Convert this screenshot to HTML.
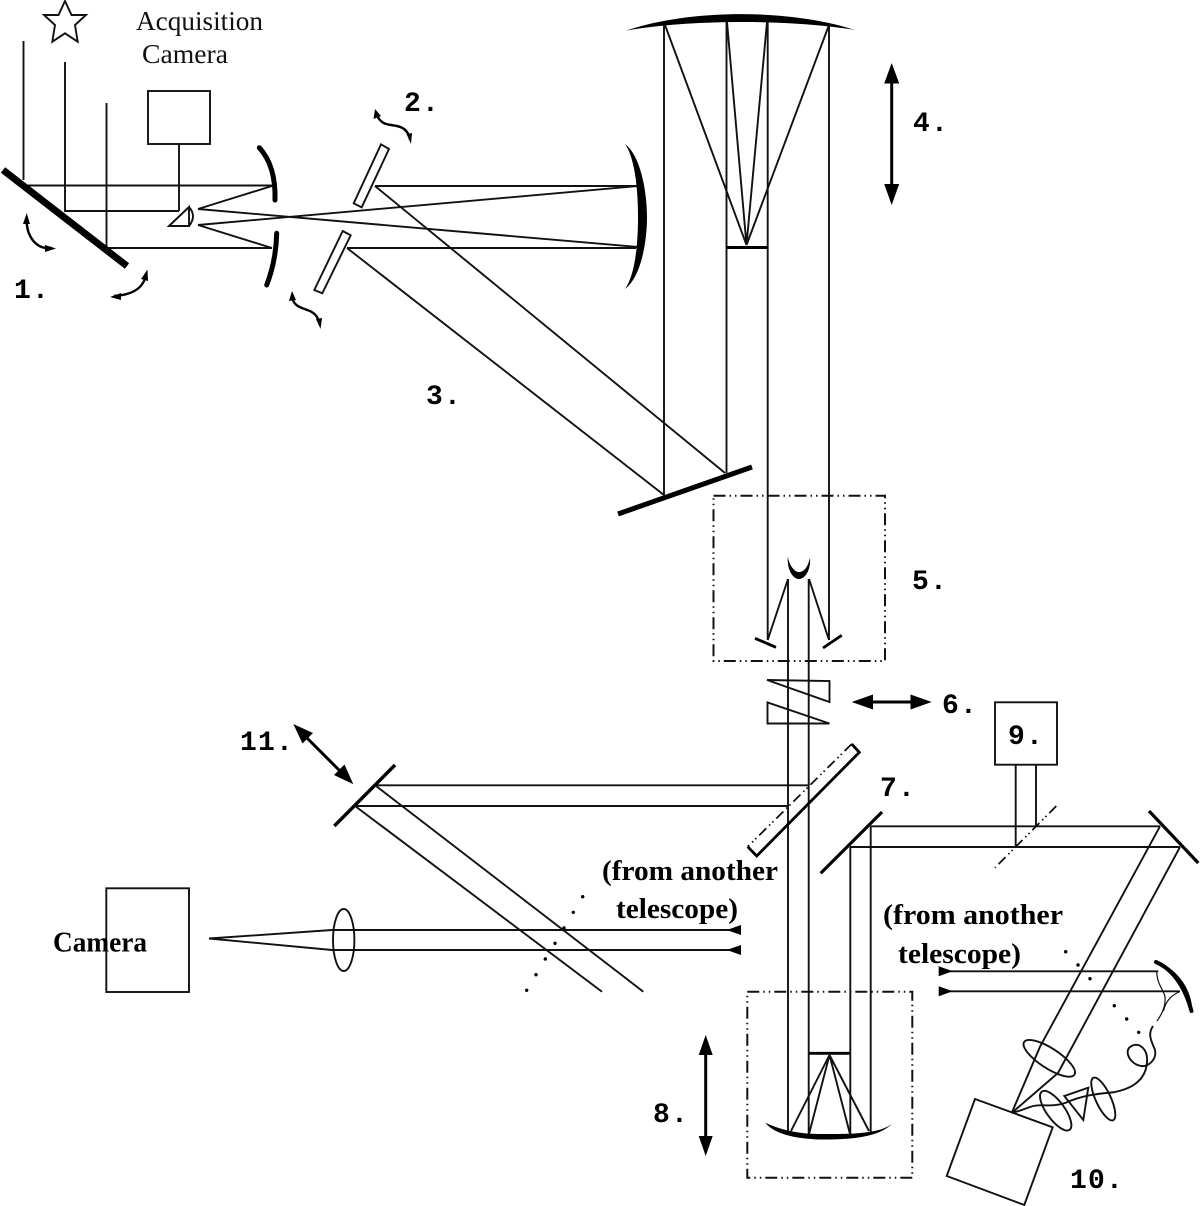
<!DOCTYPE html>
<html>
<head>
<meta charset="utf-8">
<style>
html,body{margin:0;padding:0;background:#fff;}
svg{display:block;}
.l{fill:none;stroke:#111;stroke-width:1.9;}
.t{fill:none;stroke:#111;stroke-width:1.2;}
.a{fill:none;stroke:#000;stroke-width:2.4;}
.h{fill:none;stroke:#000;stroke-width:2.8;}
.k{fill:#000;stroke:none;}
.d{fill:none;stroke:#111;stroke-width:2;stroke-dasharray:12 4 1.5 4 1.5 4;}
.n{font-family:"Liberation Mono",monospace;font-weight:bold;font-size:28px;letter-spacing:1.2px;fill:#000;}
.s{font-family:"Liberation Serif",serif;font-size:27px;fill:#111;}
.b{font-family:"Liberation Serif",serif;font-weight:bold;font-size:28px;fill:#000;}
</style>
</head>
<body>
<svg width="1200" height="1206" viewBox="0 0 1200 1206" xmlns="http://www.w3.org/2000/svg">
<rect width="1200" height="1206" fill="#fff"/>

<!-- star -->
<polygon class="l" points="65,1 71.5,15 86,15 75,25 77.7,41.7 65,33.3 52.3,41.7 55,25 44,15 58.5,15"/>

<!-- incoming beams -->
<path class="l" d="M23.5 41V180M65 62V211H179M106.5 103V248M27 185.5H272M107 248H272"/>
<!-- acquisition camera -->
<rect class="l" x="148" y="91" width="62" height="53"/>
<path class="l" d="M179 144V211"/>
<path class="l" d="M169 226L189 207V226Z"/>
<path class="l" d="M189 207Q197 216 189 226"/>
<!-- primary mirror 1 -->
<path d="M3 170L127 266" fill="none" stroke="#000" stroke-width="7"/>
<!-- rays -->
<path class="l" d="M198 209L272 186M198 225L272 248M198 209L638 247M198 225L638 186"/>
<path d="M259.3 147.7Q276 166 275 200" fill="none" stroke="#000" stroke-width="5" stroke-linecap="round"/>
<path d="M276.7 233.3Q276 261 266.7 285" fill="none" stroke="#000" stroke-width="5" stroke-linecap="round"/>
<!-- plates -->
<polygon class="l" points="381,144.3 389,149 361.7,207.3 353.7,203.3"/>
<polygon class="l" points="342.7,231 350.7,235.3 322.3,293.3 314.3,290"/>
<path class="l" d="M375 186H636M347 248H636M375 186L725 473M347 248L664 495"/>
<!-- big right curved mirror -->
<path class="k" d="M625 144C640 155 647 190 647 217C647 245 640 278 625 289C635 275 638 245 638 217C638 190 635 158 625 144Z"/>
<!-- curved arrows 1 -->
<path class="a" d="M26.7 218C26 235 35 250 52 248"/>
<polygon class="k" points="26.7,213 23,224 30,224"/>
<polygon class="k" points="56,248.5 45,245 45,252"/>
<path class="a" d="M146 275C143 290 130 295 114 296"/>
<polygon class="k" points="147.5,269.5 141,279 148,281"/>
<polygon class="k" points="110,297 121,293 121,300"/>
<!-- wavy arrows -->
<path class="a" d="M376 113C382 130 395 122 404 129C408 132 410 137 410 140"/>
<polygon class="k" points="375,109 373.5,119 381,116"/>
<polygon class="k" points="411,144 406.5,134 412,133"/>
<path class="a" d="M292 296C294 312 310 306 317 317C319 321 320 324 320 325"/>
<polygon class="k" points="292,291 289,301 296,300"/>
<polygon class="k" points="320.5,329 316,319 322,318"/>

<!-- top telescope -->
<path class="k" d="M626 30.7C690 8.7 790 8.7 855 30C790 19.3 690 19.3 626 30.7Z"/>
<path class="l" d="M664 25V495M726.5 22V473M767.7 22V640M829 25V640"/>
<path class="l" d="M665 25L746.5 245M727 22L746.5 245M767 22L746.5 245M829 25L746.5 245"/>
<path d="M726 247.5H768" fill="none" stroke="#000" stroke-width="3"/>
<!-- fold mirror -->
<path d="M618 514L752 467" fill="none" stroke="#000" stroke-width="5"/>
<!-- arrow 4 -->
<path d="M891.7 80V188" fill="none" stroke="#000" stroke-width="3"/>
<polygon class="k" points="891.7,63 884.2,83.5 899.2,83.5"/>
<polygon class="k" points="891.7,205 884.2,184 899.2,184"/>

<!-- box 5 -->
<rect class="d" x="713.5" y="495.7" width="171.5" height="165.3"/>
<path class="k" d="M787.7 556.7C790 567 795 572 799 572C804 572 808 567 810 557.7C811 570 805 579 799 579C793 579 787 570 787.7 556.7Z"/>
<path class="l" d="M767.7 640L788 579M829 640L809 579M788 579V1133M808.7 579V1134"/>
<path class="h" d="M755 638.3L776 647.3M841.7 635.3L823 648"/>
<!-- prisms 6 -->
<path class="l" d="M767 680L829.5 681V702ZM767.5 702.5V723.5H829.5Z"/>
<path d="M868 702H915" fill="none" stroke="#000" stroke-width="3"/>
<polygon class="k" points="851.7,702 873,694.5 873,709.5"/>
<polygon class="k" points="931.7,702 910.5,694.5 910.5,709.5"/>

<!-- beam splitter -->
<path d="M851.7 744L859.3 752.3L756.7 856L747.7 846.7" fill="none" stroke="#000" stroke-width="2.8"/>
<path d="M851.7 744L747.7 846.7" fill="none" stroke="#111" stroke-width="1.8" stroke-dasharray="10 4 1.5 3 1.5 4"/>
<path class="l" d="M376 785.3H808M356 806H788"/>
<!-- mirror 11 -->
<path d="M395 765L334.3 826" fill="none" stroke="#000" stroke-width="3.4"/>
<path class="l" d="M376 786L643.3 991.7M356 806.7L602 991.7"/>
<path d="M303 734L344 775" fill="none" stroke="#000" stroke-width="3"/>
<polygon class="k" points="293.3,724 313,733 302.5,743.5"/>
<polygon class="k" points="353.3,784.3 334,775 344.5,764.5"/>
<!-- lens and science camera -->
<ellipse class="l" cx="343.7" cy="940" rx="10.7" ry="31"/>
<path class="l" d="M209 938.5L332 930H730M209 938.5L332 950H730"/>
<polygon class="k" points="726.7,930 741,925 741,935"/>
<polygon class="k" points="726.7,950 741,945 741,955"/>
<g class="k">
<circle cx="582.7" cy="896.7" r="1.7"/><circle cx="573.3" cy="912.3" r="1.7"/><circle cx="564" cy="928" r="1.7"/><circle cx="555" cy="943.3" r="1.7"/><circle cx="545.3" cy="959" r="1.7"/><circle cx="536" cy="974.7" r="1.7"/><circle cx="526.7" cy="990.3" r="1.7"/>
</g>
<rect class="l" x="106.3" y="888.3" width="82.7" height="103.7"/>

<!-- box 9 and lower right -->
<rect class="l" x="995" y="702.3" width="62" height="62.4"/>
<path class="l" d="M1015.7 765V846M1036 765V826"/>
<path d="M1056.3 806L995 867.7" fill="none" stroke="#111" stroke-width="1.8" stroke-dasharray="10 4 1.5 3 1.5 4"/>
<path class="l" d="M870.7 826.3H1160M850 847H1180M850.3 847V1134M870.7 826.3V1132"/>
<path d="M882 812L820.7 873.3M1149 811L1198.3 863" fill="none" stroke="#000" stroke-width="3.2"/>
<path class="l" d="M1160 826.3L1040 1046.7L1011.7 1113M1180 847L1058 1073L1011.7 1113"/>

<!-- box 8 -->
<rect class="d" x="747.3" y="991.7" width="165" height="186"/>
<path d="M808.7 1053.3H850.3" fill="none" stroke="#000" stroke-width="2.8"/>
<path class="l" d="M829.5 1055L791 1131M829.5 1055L809 1134M829.5 1055L850 1134M829.5 1055L869 1131"/>
<path class="k" d="M765.3 1122.7C790 1134 810 1134 830 1134C855 1134 880 1133 891.7 1124C880 1136 855 1139.5 825 1139.5C800 1139.5 775 1135 765.3 1122.7Z"/>
<path d="M705.7 1052V1140" fill="none" stroke="#000" stroke-width="3"/>
<polygon class="k" points="705.7,1035 698.7,1055 712.7,1055"/>
<polygon class="k" points="705.7,1156 698.7,1136 712.7,1136"/>

<!-- delay lines from other telescope, right -->
<path class="l" d="M950 971.3H1158.3M950 991.3H1180"/>
<polygon class="k" points="952.7,971.3 938.7,966.3 938.7,976.3"/>
<polygon class="k" points="952.7,991.3 938.7,986.3 938.7,996.3"/>
<path class="k" d="M1155 961.5C1175 966 1192 988 1192.5 1011.5C1186 992 1172 970 1155 961.5Z" stroke="#000" stroke-width="1"/>
<path d="M1156 962Q1181 973 1191.5 1011" fill="none" stroke="#000" stroke-width="4" stroke-linecap="round"/>
<g class="k">
<circle cx="1065.7" cy="951.7" r="1.7"/><circle cx="1078" cy="965" r="1.7"/><circle cx="1090" cy="978.7" r="1.7"/><circle cx="1114.3" cy="1005.7" r="1.7"/><circle cx="1126.7" cy="1019" r="1.7"/><circle cx="1138.7" cy="1032.3" r="1.7"/>
</g>
<!-- fibre -->
<path class="t" d="M1156.7 971.3C1157 985 1164 990 1165 997C1166 1006 1162 1014 1157 1021"/>
<path class="t" d="M1180 991.5C1172 995 1166 1000 1163.5 1011"/>
<path class="l" d="M1153 1026C1147 1035 1152 1042 1155 1050C1157 1060 1148 1067 1141 1066C1130 1064 1124 1052 1130 1047C1138 1041 1148 1048 1147 1062C1146 1078 1135 1088 1115 1092C1100 1094 1085 1094 1065 1103C1050 1108 1040 1103 1030 1107C1022 1110 1016 1112 1011.7 1113"/>
<!-- collimator lenses and prism -->
<ellipse class="l" cx="1049.3" cy="1058.3" rx="30" ry="10" transform="rotate(33 1049.3 1058.3)"/>
<ellipse class="l" cx="1055.7" cy="1110.7" rx="23.6" ry="9" transform="rotate(54 1055.7 1110.7)"/>
<ellipse class="l" cx="1103.3" cy="1099" rx="23.4" ry="7.5" transform="rotate(65 1103.3 1099)"/>
<polygon class="l" points="1064.3,1096 1088.3,1087.7 1083.3,1120"/>
<polygon class="l" points="975,1099 1052.7,1127.3 1024.3,1205 946.7,1176"/>

<!-- text -->
<text class="s" x="136" y="30" textLength="127" lengthAdjust="spacingAndGlyphs">Acquisition</text>
<text class="s" x="142" y="63" textLength="86" lengthAdjust="spacingAndGlyphs">Camera</text>
<text class="b" x="53" y="951.7" textLength="94" lengthAdjust="spacingAndGlyphs">Camera</text>
<text class="b" x="602" y="880" textLength="176" lengthAdjust="spacingAndGlyphs">(from another</text>
<text class="b" x="616" y="918" textLength="122" lengthAdjust="spacingAndGlyphs">telescope)</text>
<text class="b" x="883" y="924" textLength="180" lengthAdjust="spacingAndGlyphs">(from another</text>
<text class="b" x="898" y="963" textLength="123" lengthAdjust="spacingAndGlyphs">telescope)</text>

<text class="n" x="14" y="298">1.</text>
<text class="n" x="404" y="111">2.</text>
<text class="n" x="426" y="404">3.</text>
<text class="n" x="913" y="131">4.</text>
<text class="n" x="912" y="589">5.</text>
<text class="n" x="942" y="713">6.</text>
<text class="n" x="880" y="796">7.</text>
<text class="n" x="653" y="1122">8.</text>
<text class="n" x="1008" y="744">9.</text>
<text class="n" x="1070" y="1188">10.</text>
<text class="n" x="240" y="750">11.</text>
</svg>
</body>
</html>
